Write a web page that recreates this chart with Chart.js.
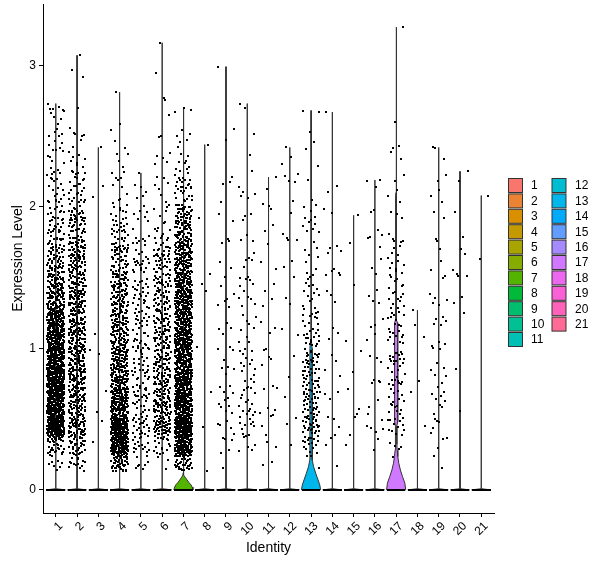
<!DOCTYPE html>
<html><head><meta charset="utf-8">
<script src="https://cdn.jsdelivr.net/npm/chart.js@4/dist/chart.umd.min.js"></script>
<style>html,body{margin:0;padding:0;background:#fff;}canvas{display:block;}</style>
</head><body>
<canvas id="c" width="600" height="568"></canvas>
<script>
// ---------------- data ----------------
const categories = ['1','2','3','4','5','6','7','8','9','10','11','12','13','14','15','16','17','18','19','20','21'];
const yTicks = [0, 1, 2, 3];
// bin edges of expression values (non-zero cells)
const binEdges = [0.13, 0.25, 0.375, 0.5, 0.75, 1.0, 1.25, 1.5, 1.75, 2.0, 2.25, 2.5, 2.75, 3.0, 3.25];
// highest expression value per identity (top of each violin)
const maxValues = [2.73, 3.07, 2.42, 2.81, 2.24, 3.16, 2.70, 2.44, 2.99, 2.73, 2.21, 2.42, 2.68, 2.67, 1.94, 2.19, 3.27, 1.27, 2.42, 2.25, 2.08];
// estimated number of non-zero cells in each bin, per identity
const binCounts = [
  [8, 30, 170, 400, 360, 260, 130, 75, 35, 22, 15, 13, 0, 0],
  [15, 30, 45, 95, 100, 100, 100, 90, 55, 30, 12, 4, 2, 0],
  [0, 1, 1, 2, 1, 2, 0, 0, 0, 2, 0, 0, 0, 0],
  [45, 130, 130, 200, 130, 100, 90, 70, 30, 12, 6, 2, 0, 0],
  [8, 15, 20, 35, 30, 30, 28, 25, 12, 5, 0, 0, 0, 0],
  [3, 15, 50, 90, 75, 70, 60, 50, 15, 8, 6, 3, 2, 0],
  [35, 130, 160, 290, 260, 220, 200, 150, 90, 35, 12, 3, 0, 0],
  [1, 0, 1, 1, 0, 1, 2, 1, 1, 0, 0, 0, 0, 0],
  [1, 4, 6, 10, 8, 5, 6, 5, 3, 4, 1, 1, 0, 0],
  [0, 5, 10, 18, 14, 10, 10, 8, 5, 6, 1, 2, 0, 0],
  [2, 2, 3, 6, 5, 4, 4, 3, 4, 2, 0, 0, 0, 0],
  [0, 1, 1, 2, 2, 2, 3, 3, 4, 5, 2, 0, 0, 0],
  [2, 15, 25, 50, 45, 30, 14, 10, 10, 5, 2, 2, 0, 0],
  [1, 2, 2, 5, 4, 3, 4, 8, 1, 3, 0, 0, 0, 0],
  [0, 1, 2, 3, 2, 1, 1, 1, 0, 0, 0, 0, 0, 0],
  [0, 2, 4, 6, 5, 5, 4, 5, 4, 3, 0, 0, 0, 0],
  [0, 5, 10, 22, 25, 22, 18, 15, 6, 5, 4, 1, 0, 0],
  [0, 0, 1, 1, 1, 1, 1, 0, 0, 0, 0, 0, 0, 0],
  [2, 2, 5, 10, 8, 8, 6, 5, 3, 5, 2, 0, 0, 0],
  [0, 0, 0, 1, 1, 1, 3, 5, 2, 1, 0, 0, 0, 0],
  [0, 0, 0, 0, 0, 0, 0, 1, 0, 0, 0, 0, 0, 0]
];
// cells at zero expression (drawn on the 0 line)
const zeroCells = [40,40,40,40,40,40,40,40,40,40,40,40,40,40,40,40,40,40,40,40,40];
// violin profiles [value, half width] where the density is visible
const violin7  = [[0,0.45],[0.02,0.41],[0.035,0.36],[0.05,0.27],[0.07,0.17],[0.09,0.08],[0.105,0.025],[0.12,0.008]];
const violin13 = [[0,0.45],[0.035,0.41],[0.07,0.33],[0.117,0.22],[0.164,0.12],[0.21,0.06],[0.28,0.05],[0.5,0.06],[0.8,0.06],[1.0,0.05],[1.05,0.03],[1.5,0.025],[1.52,0.005]];
const violin17 = [[0,0.45],[0.047,0.41],[0.094,0.30],[0.14,0.20],[0.188,0.125],[0.235,0.08],[0.28,0.05],[0.32,0.035],[0.45,0.03],[0.48,0.07],[0.8,0.08],[1.1,0.075],[1.18,0.07],[1.2,0.03],[2.07,0.025],[2.1,0.005]];
const flatViolin = [[0,0.45],[0.008,0.005]];

// ---------------- styling ----------------
function hclHex(h, c, l) {
  const WX = 95.047, WY = 100.0, WZ = 108.883;
  const hr = h * Math.PI / 180;
  const U = c * Math.cos(hr), V = c * Math.sin(hr);
  const Y = l > 7.999592 ? WY * Math.pow((l + 16) / 116, 3) : WY * l / 903.3;
  const den = WX + 15 * WY + 3 * WZ;
  const un = 4 * WX / den, vn = 9 * WY / den;
  const uq = U / (13 * l) + un, vq = V / (13 * l) + vn;
  const X = 9 * Y * uq / (4 * vq);
  const Z = -X / 3 - 5 * Y + 3 * Y / vq;
  const x = X / 100, y = Y / 100, z = Z / 100;
  const lin = [3.240479 * x - 1.537150 * y - 0.498535 * z,
               -0.969256 * x + 1.875992 * y + 0.041556 * z,
               0.055648 * x - 0.204043 * y + 1.057311 * z];
  return '#' + lin.map(v => {
    let g = v <= 0.0031308 ? 12.92 * v : 1.055 * Math.pow(v, 1 / 2.4) - 0.055;
    g = Math.max(0, Math.min(1, g));
    return Math.round(g * 255).toString(16).padStart(2, '0');
  }).join('').toUpperCase();
}
const colors = categories.map((_, i) => hclHex(15 + i * 360 / categories.length, 100, 65));
const FONT = '"Liberation Sans", Arial, sans-serif';

// crisp 2x2 dot used as point style
const dot = document.createElement('canvas');
dot.width = 2; dot.height = 2;
(function () { const g = dot.getContext('2d'); g.fillStyle = '#000'; g.fillRect(0, 0, 2, 2); })();

// ---------------- build datasets ----------------
// Halton-style layout sequences for the jitter (x) and the spread inside each bin (y)
const GOLD = 0.6180339887498949;
function radicalInverse(n, base) {
  let inv = 1 / base, f = inv, r = 0;
  while (n > 0) { r += (n % base) * f; n = Math.floor(n / base); f *= inv; }
  return r;
}
const pointData = [];
const zeroData = [];
categories.forEach((cat, ci) => {
  const cx = ci + 1;
  const mx = maxValues[ci];
  let k = 1 + ci * 37;
  binCounts[ci].forEach((n, b) => {
    const lo = binEdges[b], hi = binEdges[b + 1];
    const ext = 0.2 * (hi - lo);
    for (let j = 0; j < n; j++) {
      k++;
      const u = radicalInverse(k, 2), v = radicalInverse(k, 3), w = (k * GOLD) % 1;
      let y = lo + v * (hi - lo) + (w - 0.5) * 2 * ext;
      if (b === 0 && y < lo) y = 2 * lo - y;
      if (y > mx) y = 2 * mx - y;
      pointData.push({x: cx + (u - 0.5) * 0.8, y});
    }
  });
  k++;
  pointData.push({x: cx + (radicalInverse(k, 2) - 0.5) * 0.8, y: mx});
  for (let j = 0; j < zeroCells[ci]; j++) {
    zeroData.push({x: cx - 0.4 + 0.8 * (j + 0.5) / zeroCells[ci], y: 0});
  }
});

const profiles = {7: violin7, 13: violin13, 17: violin17};
const violinSets = categories.map((cat, ci) => {
  const cx = ci + 1;
  const prof = (profiles[cat] || flatViolin).concat([[maxValues[ci], 0.005]]);
  const left = prof.map(([y, w]) => ({x: cx - w, y}));
  const right = prof.slice().reverse().map(([y, w]) => ({x: cx + w, y}));
  const poly = left.concat(right, [left[0]]);
  return {
    type: 'line', label: cat, data: poly, order: 2,
    borderColor: '#333333', borderWidth: 1, backgroundColor: colors[ci],
    fill: 'shape', pointRadius: 0, tension: 0
  };
});

const crispPlugin = {
  id: 'crisp',
  beforeDatasetsDraw(chart) { chart.ctx.imageSmoothingEnabled = false; }
};

const legendPlugin = {
  id: 'identityLegend',
  afterDraw(chart) {
    const ctx = chart.ctx;
    ctx.save();
    ctx.font = '12px ' + FONT;
    ctx.textBaseline = 'middle';
    ctx.textAlign = 'left';
    categories.forEach((cat, i) => {
      const col = i < 11 ? 0 : 1;
      const row = col ? i - 11 : i;
      const kx = col ? 552 : 508.5;
      const ky = 178.5 + row * 15.4;
      ctx.fillStyle = colors[i];
      ctx.fillRect(kx, ky, 14, 14);
      ctx.strokeStyle = '#333333';
      ctx.lineWidth = 1;
      ctx.strokeRect(kx, ky, 14, 14);
      ctx.fillStyle = '#000';
      ctx.fillText(cat, col ? 575 : 531, ky + 7.5);
    });
    ctx.restore();
  }
};

Chart.defaults.font.family = FONT;
Chart.defaults.color = '#000';

new Chart(document.getElementById('c'), {
  type: 'scatter',
  data: {
    datasets: [
      {type: 'scatter', label: 'cells', data: pointData, order: 0,
       pointStyle: dot, pointRadius: 1, borderWidth: 0, backgroundColor: '#000'},
      {type: 'scatter', label: 'zero', data: zeroData, order: 1,
       pointStyle: dot, pointRadius: 1, borderWidth: 0, backgroundColor: '#000'}
    ].concat(violinSets)
  },
  options: {
    responsive: false, animation: false, devicePixelRatio: 1, events: [],
    layout: {padding: {left: 0, right: 106, top: 3, bottom: 0}},
    plugins: {legend: {display: false}, tooltip: {enabled: false}},
    scales: {
      x: {
        type: 'linear', min: 0.4, max: 21.6,
        afterBuildTicks: s => { s.ticks = categories.map((_, i) => ({value: i + 1})); },
        afterFit: s => { s.height = 55; s.paddingLeft = 0; s.paddingRight = 0; },
        ticks: {autoSkip: false, minRotation: 45, maxRotation: 45, color: '#000',
                font: {size: 12}, padding: 2, labelOffset: 5, callback: v => categories[v - 1]},
        grid: {drawOnChartArea: false, drawTicks: true, tickLength: 4, color: '#000'},
        border: {display: true, color: '#000', width: 1},
        title: {display: true, text: 'Identity', color: '#000', font: {size: 14},
                padding: {top: 0, bottom: 11.6}}
      },
      y: {
        type: 'linear', min: -0.1635, max: 3.4335,
        afterBuildTicks: s => { s.ticks = yTicks.map(v => ({value: v})); },
        afterFit: s => { s.width = 43; s.paddingTop = 0; s.paddingBottom = 0; },
        ticks: {color: '#000', font: {size: 12}, padding: 3, callback: v => String(v)},
        grid: {drawOnChartArea: false, drawTicks: true, tickLength: 4, color: '#000'},
        border: {display: true, color: '#000', width: 1},
        title: {display: true, text: 'Expression Level', color: '#000', font: {size: 14},
                padding: {top: 9.6, bottom: 0}}
      }
    }
  },
  plugins: [crispPlugin, legendPlugin]
});
</script>
</body></html>
